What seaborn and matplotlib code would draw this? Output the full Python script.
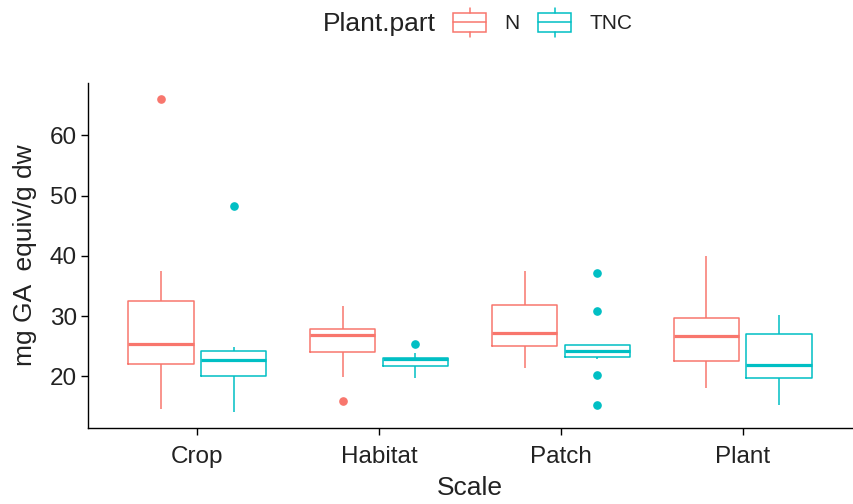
import matplotlib
matplotlib.use("Agg")
import matplotlib.pyplot as plt
import seaborn as sns
import pandas as pd
from matplotlib.patches import Patch, Rectangle
from matplotlib.lines import Line2D
from matplotlib.legend_handler import HandlerBase

scales = ["Crop", "Habitat", "Patch", "Plant"]
parts = ["N", "TNC"]

crop_N = [14.6, 20.0, 22.1, 24.0, 25.4, 28.0, 32.55, 37.4, 66.0]
crop_TNC = [14.1, 17.0, 20.0, 21.5, 22.7, 23.5, 24.2, 24.8, 48.3]
habitat_N = [15.9, 19.9, 24.0, 25.5, 26.9, 27.4, 27.9, 29.5, 31.7]
habitat_TNC = [19.7, 21.0, 21.7, 22.4, 22.9, 23.0, 23.1, 23.9, 25.4]
patch_N = [21.3, 23.5, 25.1, 26.0, 27.2, 29.5, 31.9, 34.0, 37.4]
patch_TNC = [15.3, 20.2, 22.9, 23.25, 23.6, 23.9, 24.2, 24.5, 24.9, 25.2, 25.2, 30.8, 37.1]
plant_N = [18.1, 20.5, 22.5, 24.5, 26.6, 28.0, 29.6, 34.0, 40.0]
plant_TNC = [15.3, 18.0, 19.7, 20.8, 21.8, 24.0, 27.0, 28.5, 30.2]

groups = {
    ("Crop", "N"): crop_N, ("Crop", "TNC"): crop_TNC,
    ("Habitat", "N"): habitat_N, ("Habitat", "TNC"): habitat_TNC,
    ("Patch", "N"): patch_N, ("Patch", "TNC"): patch_TNC,
    ("Plant", "N"): plant_N, ("Plant", "TNC"): plant_TNC,
}
rows = []
for (s, p), vals in groups.items():
    for v in vals:
        rows.append({"Scale": s, "Plant.part": p, "value": v})
df = pd.DataFrame(rows)

colors = {"N": "#F8766D", "TNC": "#00BFC4"}

sns.set_theme(style="white")
plt.rcParams["font.family"] = ["Liberation Sans", "DejaVu Sans"]

fig = plt.figure(figsize=(8.54, 5.04), dpi=100)
ax = fig.add_axes([88/854, 1-428/504, (852-88)/854, (428-83)/504])

sns.boxplot(data=df, x="Scale", y="value", hue="Plant.part", order=scales,
            hue_order=parts, palette=colors, fill=False, width=0.8, gap=0.1,
            showcaps=False, linewidth=1.1, medianprops={"linewidth": 2.3},
            flierprops={"marker": "o", "markersize": 5.2}, legend=False, ax=ax)

for ln in ax.lines:
    if ln.get_marker() == "o":
        ln.set_markerfacecolor(ln.get_markeredgecolor())

ax.set_xlim(-0.6, 3.6)
ax.set_ylim(11.4, 68.7)
ax.set_yticks([20, 30, 40, 50, 60])
for sp in ["top", "right"]:
    ax.spines[sp].set_visible(False)
for sp in ["left", "bottom"]:
    ax.spines[sp].set_color("black")
    ax.spines[sp].set_linewidth(1.0)
ax.tick_params(axis="both", which="major", length=5, width=1.0, color="black",
               labelsize=17.5, labelcolor="#222222", bottom=True, left=True, pad=3)
ax.tick_params(axis="x", pad=8)
ax.set_xlabel("Scale", fontsize=19, color="#222222", labelpad=6)
ax.set_ylabel("mg GA  equiv/g dw", fontsize=19, color="#222222", labelpad=9)


class BoxHandler(HandlerBase):
    def create_artists(self, legend, orig_handle, xdescent, ydescent,
                       width, height, fontsize, trans):
        c = orig_handle.get_edgecolor()
        x0, y0 = -xdescent, -ydescent
        bw = width
        bx = x0
        bh = height
        by = y0
        rect = Rectangle((bx, by), bw, bh, facecolor="white", edgecolor=c,
                         lw=1.1, transform=trans)
        med = Line2D([bx, bx + bw], [by + bh / 2] * 2, color=c, lw=1.1,
                     transform=trans)
        cx = x0 + width / 2
        w1 = Line2D([cx, cx], [by + bh, by + bh + height * 0.25], color=c,
                    lw=1.1, transform=trans)
        w2 = Line2D([cx, cx], [by, by - height * 0.25], color=c, lw=1.1,
                    transform=trans)
        return [rect, med, w1, w2]


handles = [Patch(edgecolor=colors[p], facecolor="white") for p in parts]
fig.text(323/854, 1-24/504, "Plant.part", fontsize=19, color="#222222",
         ha="left", va="center")
fig.legend(handles, parts, loc="center left",
           bbox_to_anchor=(453/854, 1-23/504), ncol=2, frameon=False,
           handler_map={Patch: BoxHandler()}, fontsize=15, labelcolor="#222222",
           handlelength=1.6, handleheight=1.06, handletextpad=0.85,
           columnspacing=0.9, borderpad=0, borderaxespad=0)

fig.savefig("out.png", dpi=100)
